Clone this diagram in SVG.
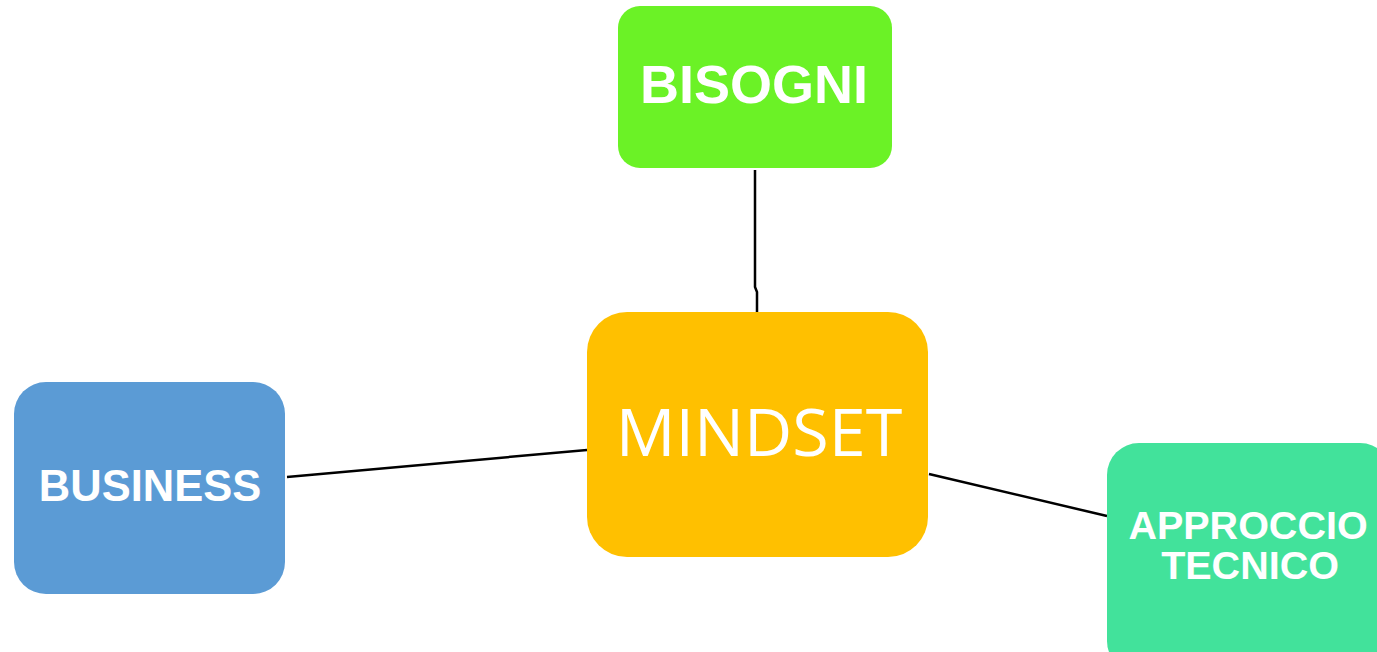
<svg xmlns="http://www.w3.org/2000/svg" width="1377" height="652" viewBox="0 0 1377 652">
<style>
.lbl{font-family:"Liberation Sans",Arial,sans-serif;font-weight:bold;fill:#fff;text-anchor:middle}
.conn{stroke:#000;stroke-width:2.5;fill:none}
</style>
<rect width="1377" height="652" fill="#fff"/>
<g id="connectors">
<polyline class="conn" points="755,170 755,287 757,292 757,312"/>
<line class="conn" x1="287" y1="477" x2="587" y2="450"/>
<line class="conn" x1="929" y1="474" x2="1107" y2="516"/>
</g>
<g id="bisogni">
<rect x="618" y="6" width="274" height="162" rx="22" fill="#6BF226"/>
<text class="lbl" x="754" y="103" font-size="54">BISOGNI</text>
</g>
<g id="mindset">
<rect x="587" y="312" width="341" height="245" rx="40" fill="#FFC000"/>
<text x="759" y="456" font-family="'Open Sans',sans-serif" font-size="66.5" fill="#fff" text-anchor="middle">MINDSET</text>
</g>
<g id="business">
<rect x="14" y="382" width="271" height="212" rx="32" fill="#5B9BD5"/>
<text class="lbl" x="150" y="501" font-size="43.5">BUSINESS</text>
</g>
<g id="approccio">
<rect x="1107" y="443" width="285" height="230" rx="32" fill="#42E29B"/>
<text class="lbl" font-size="39.5"><tspan x="1248" y="539">APPROCCIO</tspan><tspan x="1250" y="579">TECNICO</tspan></text>
</g>
</svg>
